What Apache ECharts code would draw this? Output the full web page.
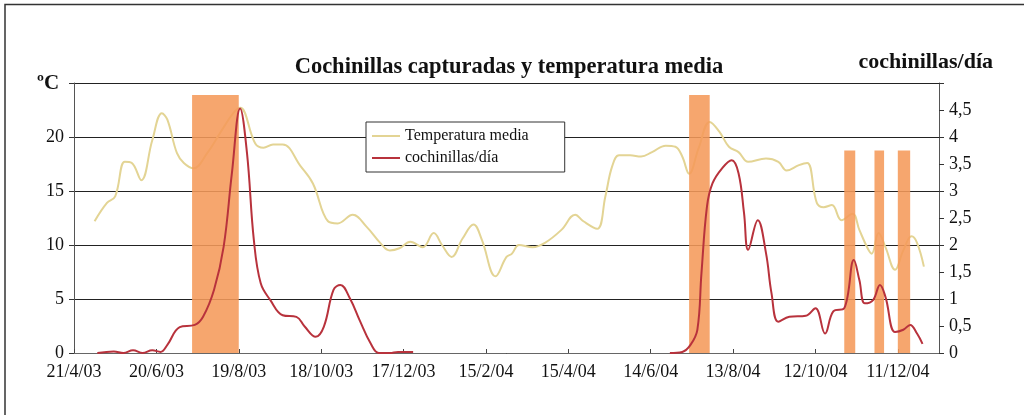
<!DOCTYPE html>
<html>
<head>
<meta charset="utf-8">
<script src="https://cdn.jsdelivr.net/npm/echarts@6/dist/echarts.min.js"></script>
<style>
html, body { margin: 0; padding: 0; background: #fff; }
#chart { width: 1024px; height: 415px; }
</style>
</head>
<body>
<div id="chart"></div>
<script>
// days counted from 21/4/03
var tickLabels = ['21/4/03', '20/6/03', '19/8/03', '18/10/03', '17/12/03', '15/2/04',
    '15/4/04', '14/6/04', '13/8/04', '12/10/04', '11/12/04'];

// Temperatura media (ºC)
var tempDays = [15, 24, 30, 37, 42, 49, 57, 64, 68, 75, 80, 87, 97, 107, 116, 121, 132, 138, 145, 152,
    165, 174, 185, 192, 203, 213, 223, 230, 237, 245, 254, 262, 268, 275, 283, 291, 297, 307, 315, 319,
    324, 334, 343, 355, 365, 371, 381, 387, 392, 397, 405, 413, 421, 431, 438, 443, 448, 455, 463, 470,
    477, 484, 491, 504, 513, 519, 528, 534, 541, 546, 552, 559, 567, 572, 578, 581, 586, 591, 598, 604,
    610, 614, 619];
var tempValues = [12.2, 13.9, 14.5, 17.7, 17.6, 16.0, 19.7, 22.2, 21.6, 18.5, 17.6, 17.1, 18.5, 20.5, 22.2, 22.7, 19.4, 19.0, 19.3, 19.3,
    17.3, 15.7, 12.2, 12.0, 12.8, 11.7, 10.2, 9.5, 9.7, 10.3, 9.8, 11.1, 10.0, 8.9, 10.6, 11.9, 10.5, 7.1, 8.9, 9.2,
    10.0, 9.8, 10.2, 11.4, 12.8, 12.2, 11.5, 14.5, 17.3, 18.3, 18.3, 18.2, 18.6, 19.2, 19.1, 18.2, 16.6, 19.0, 21.4, 20.5,
    19.1, 18.6, 17.7, 18.0, 17.7, 16.9, 17.4, 17.6, 13.9, 13.5, 13.7, 12.3, 12.9, 11.4, 9.7, 9.2, 11.1, 9.8, 7.7, 9.5,
    10.8, 10.2, 8.0];

// cochinillas/día (null = sin datos)
var cochDays = [17, 29, 36, 43, 50, 57, 63, 68, 77, 88, 94, 102, 109, 115, 121, 126, 131, 136, 143, 152,
    162, 168, 176, 182, 189, 194, 201, 208, 216, 222, 230, 236, 247, 340,
    434, 443, 449, 454, 457, 461, 465, 472, 479, 484, 488, 491, 498, 504, 508, 513, 521, 533,
    540, 547, 553, 561, 568, 572, 576, 582, 587, 591, 598, 604, 609, 614, 618];
var cochValues = [0, 0.03, 0, 0.05, 0, 0.05, 0.02, 0.15, 0.48, 0.52, 0.67, 1.17, 1.97, 3.33, 4.53, 3.70, 2.09, 1.29, 0.98, 0.70,
    0.67, 0.49, 0.30, 0.49, 1.17, 1.26, 1.01, 0.61, 0.18, 0, 0, 0.02, 0.02, null,
    0, 0.02, 0.15, 0.43, 1.48, 2.71, 3.14, 3.42, 3.57, 3.33, 2.59, 1.91, 2.46, 1.85, 1.11, 0.58, 0.67, 0.69,
    0.83, 0.36, 0.77, 0.83, 1.72, 1.35, 0.92, 0.98, 1.26, 1.04, 0.39, 0.43, 0.52, 0.36, 0.17];

// franjas naranjas
var barStart = [86, 448, 561, 583, 600];
var barEnd = [120, 463, 569, 590, 609];
var barHeight = [4.78, 4.78, 3.75, 3.75, 3.75];

var tempData = tempDays.map(function (d, i) { return [d, tempValues[i]]; });
var cochData = cochDays.map(function (d, i) { return [d, cochValues[i]]; });
var barData = barStart.map(function (s, i) { return [s, barEnd[i], barHeight[i]]; });

var serif = '"Liberation Serif", "DejaVu Serif", serif';

myChart = echarts.init(document.getElementById('chart'));

option = {
    animation: false,
    backgroundColor: '#fff',
    textStyle: { fontFamily: serif, color: '#111' },
    title: {
        text: 'Cochinillas capturadas y temperatura media',
        left: 504,
        textAlign: 'center',
        top: 51,
        textStyle: { fontFamily: serif, fontWeight: 'bold', fontSize: 22.5, color: '#111' }
    },
    legend: {
        data: ['Temperatura media', 'cochinillas/día'],
        orient: 'vertical',
        left: 366,
        top: 122,
        padding: [6, 36, 6, 6],
        itemGap: 6,
        itemWidth: 28,
        itemHeight: 2,
        icon: 'rect',
        borderColor: '#333',
        borderWidth: 1,
        backgroundColor: '#fff',
        textStyle: { fontFamily: serif, fontSize: 16, color: '#111' }
    },
    grid: { left: 74, right: 85, top: 83, bottom: 62 },
    xAxis: {
        type: 'value',
        min: 0,
        max: 630,
        interval: 60,
        axisLine: { lineStyle: { color: '#666', width: 1 } },
        axisTick: { inside: true, length: 4, lineStyle: { color: '#444' } },
        splitLine: { show: false },
        axisLabel: {
            margin: 10,
            fontFamily: serif,
            fontSize: 18,
            color: '#111',
            showMaxLabel: false,
            formatter: function (v) {
                return v % 60 === 0 ? (tickLabels[v / 60] || '') : '';
            }
        }
    },
    yAxis: [{
        type: 'value',
        min: 0,
        max: 25,
        interval: 5,
        axisLine: { show: true, lineStyle: { color: '#555' } },
        axisTick: { show: true, length: 5, lineStyle: { color: '#333' } },
        splitLine: { lineStyle: { color: '#222', width: 1.2 } },
        axisLabel: {
            margin: 10,
            fontFamily: serif,
            fontSize: 18,
            color: '#111',
            formatter: function (v) { return v === 25 ? '' : v; }
        }
    }, {
        type: 'value',
        min: 0,
        max: 5,
        interval: 0.5,
        axisLine: { show: true, lineStyle: { color: '#555' } },
        axisTick: { show: true, length: 5, lineStyle: { color: '#333' } },
        splitLine: { show: false },
        axisLabel: {
            margin: 10,
            fontFamily: serif,
            fontSize: 18,
            color: '#111',
            formatter: function (v) { return v === 5 ? '' : String(v).replace('.', ','); }
        }
    }],
    graphic: [
        {
            type: 'polyline',
            shape: { points: [[5, 415], [5, 4.5], [1024, 4.5]] },
            style: { stroke: '#333', fill: null, lineWidth: 1.5 }
        },
        {
            type: 'text',
            left: 37,
            top: 73,
            style: { text: 'ºC', font: 'bold 21px ' + serif, fill: '#111' }
        },
        {
            type: 'text',
            right: 31,
            top: 51,
            style: { text: 'cochinillas/día', font: 'bold 22px ' + serif, fill: '#111' }
        }
    ],
    series: [{
        name: 'Temperatura media',
        type: 'line',
        yAxisIndex: 0,
        smooth: 0.4,
        showSymbol: false,
        color: '#e3d494',
        lineStyle: { width: 2, color: '#e3d494' },
        z: 2,
        data: tempData
    }, {
        name: 'franjas',
        type: 'custom',
        yAxisIndex: 1,
        z: 3,
        renderItem: function (params, api) {
            var p0 = api.coord([api.value(0), api.value(2)]);
            var p1 = api.coord([api.value(1), 0]);
            return {
                type: 'rect',
                shape: { x: p0[0], y: p0[1], width: p1[0] - p0[0], height: p1[1] - p0[1] },
                style: { fill: '#f59a5a', opacity: 0.88 }
            };
        },
        encode: { x: [0, 1], y: 2 },
        data: barData
    }, {
        name: 'cochinillas/día',
        type: 'line',
        yAxisIndex: 1,
        smooth: 0.4,
        showSymbol: false,
        connectNulls: false,
        color: '#b8323c',
        lineStyle: { width: 2, color: '#b8323c' },
        z: 4,
        data: cochData
    }]
};

myChart.setOption(option);
</script>
</body>
</html>
